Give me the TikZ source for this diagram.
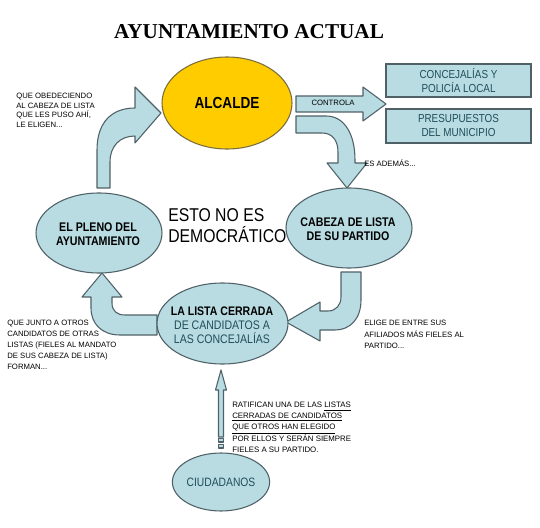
\documentclass[tikz,border=0pt]{standalone}
\usepackage{fontspec}
\setmainfont{Liberation Serif}
\newfontfamily\sfn[FakeStretch=0.85]{Liberation Sans}
\newfontfamily\sfr{Liberation Sans}
\usetikzlibrary{shapes.geometric}
\definecolor{lb}{HTML}{B8DCE2}
\definecolor{bd}{HTML}{4F6167}
\definecolor{gold}{HTML}{FFCC00}
\definecolor{goldbd}{HTML}{7A6E3C}
\definecolor{tl}{HTML}{1F4E5A}
\begin{document}
\begin{tikzpicture}[x=0.75pt,y=-0.75pt,
  ell/.style={ellipse,draw=bd,fill=lb,line width=0.8pt,inner sep=0pt},
  blk/.style={draw=bd,fill=lb,line width=0.8pt,line join=round},
  rbox/.style={draw=bd,fill=lb,line width=1pt,inner sep=0pt,minimum width=108.75pt,align=center,text=tl,font=\sfn\fontsize{8.7}{10.5}\selectfont},
  note/.style={font=\sfr\fontsize{5.8}{8.25}\selectfont,align=left,anchor=base west,inner sep=0pt},
  ebold/.style={font=\sfn\bfseries\fontsize{9.4}{10.9}\selectfont,align=center,anchor=base,inner sep=0pt}]
\useasboundingbox (0,0) rectangle (540,528);
\fill[white] (0,0) rectangle (540,528);

% title
\node[font=\bfseries\fontsize{15.9}{18}\selectfont,anchor=base,inner sep=0pt] (title) at (249,39) {AYUNTAMIENTO ACTUAL};

% block arrows
\draw[blk] (97,188) -- (97,150) .. controls (97,122) and (112,108) .. (135,108) -- (135,87) -- (161,113) -- (135,143) -- (135,136) .. controls (120,136) and (110,146) .. (110,162) -- (110,188) -- cycle;
\draw[blk] (296,96) -- (363,96) -- (363,87) -- (386,104) -- (363,121) -- (363,112) -- (296,112) -- cycle;
\draw[blk] (296,116) -- (326,116) .. controls (345,116) and (355,135) .. (355,160) -- (355,163) -- (367,163) -- (347,188) -- (327,163) -- (338,163) -- (338,152) .. controls (338,140) and (332,133) .. (322,133) -- (296,133) -- cycle;
\draw[blk] (341,272) -- (361,272) -- (361,300) .. controls (361,319) and (350,330) .. (335,330) -- (320,330) -- (320,341) -- (286,322) -- (320,302) -- (320,311) -- (328,311) .. controls (336,311) and (341,305) .. (341,297) -- cycle;
\draw[blk] (102,273) -- (122,297) -- (112,297) -- (112,303) .. controls (112,311) and (117,315) .. (125,315) -- (157,315) -- (157,335) -- (120,335) .. controls (102,335) and (91,324) .. (91,308) -- (91,297) -- (82,297) -- cycle;
\draw[blk] (221,370) -- (226.5,390) -- (223.5,390) -- (223.5,437) -- (218.5,437) -- (218.5,390) -- (215.5,390) -- cycle;
\draw[blk] (218.5,438.5) rectangle (223.5,442);
\draw[blk] (218.5,444.5) rectangle (223.5,448);

% ellipses
\node[ell,fill=gold,draw=goldbd,minimum width=97.5pt,minimum height=69pt,font=\sfn\bfseries\fontsize{12}{14}\selectfont] (alcalde) at (227,103) {ALCALDE};
\node[ell,minimum width=94.5pt,minimum height=60pt] (pleno) at (99,233) {};
\node[ell,minimum width=94.5pt,minimum height=60pt] (cabeza) at (349,228) {};
\node[ell,minimum width=98.25pt,minimum height=60.75pt] (lista) at (222.5,323.5) {};
\node[ell,minimum width=67.5pt,minimum height=43.5pt,text=tl,font=\sfn\fontsize{9.1}{11}\selectfont] (ciud) at (221,482) {CIUDADANOS};

% ellipse texts (anchor base = baseline of last line)
\node[ebold] (plenoT) at (98,246) {EL PLENO DEL\\AYUNTAMIENTO};
\node[ebold] (cabT) at (348,241) {CABEZA DE LISTA\\DE SU PARTIDO};
\node[align=center,anchor=base,inner sep=0pt,font=\sfn\fontsize{9.3}{10.5}\selectfont,text=tl] (listaT) at (222,344) {{\color{black}\bfseries LA LISTA CERRADA}\\DE CANDIDATOS A\\LAS CONCEJALÍAS};

% boxes
\node[rbox,minimum height=24.75pt] (box1) at (458.5,80.5) {CONCEJALÍAS Y\\POLICÍA LOCAL};
\node[rbox,minimum height=25.5pt] (box2) at (458.5,126) {PRESUPUESTOS\\DEL MUNICIPIO};

% central text
\node[anchor=base west,align=left,inner sep=0pt,font=\sfn\fontsize{13.9}{15.75}\selectfont] (esto) at (168,243) {ESTO NO ES\\DEMOCRÁTICO};

% notes
\node[note,anchor=base] (ctrl) at (333,105.5) {CONTROLA};
\node[note] (esad) at (364,167) {ES ADEMÁS...};
\node[note,font=\sfr\fontsize{5.8}{7.5}\selectfont] (noteA) at (16,128) {QUE OBEDECIENDO\\AL CABEZA DE LISTA\\QUE LES PUSO AHÍ,\\LE ELIGEN...};
\node[note] (noteB) at (7,369.5) {QUE JUNTO A OTROS\\CANDIDATOS DE OTRAS\\LISTAS (FIELES AL MANDATO\\DE SUS CABEZA DE LISTA)\\FORMAN...};
\node[note,font=\sfr\fontsize{5.8}{8.6}\selectfont] (noteC) at (364,348.5) {ELIGE DE ENTRE SUS\\AFILIADOS MÁS FIELES AL\\PARTIDO...};
\node[note,font=\sfr\fontsize{5.9}{8.06}\selectfont] (noteD) at (232,452.5) {RATIFICAN UNA DE LAS \underline{LISTAS}\\\underline{CERRADAS DE CANDIDATOS}\\\underline{QUE OTROS HAN ELEGIDO}\\POR ELLOS Y SERÁN SIEMPRE\\FIELES A SU PARTIDO.};
\end{tikzpicture}
\end{document}
